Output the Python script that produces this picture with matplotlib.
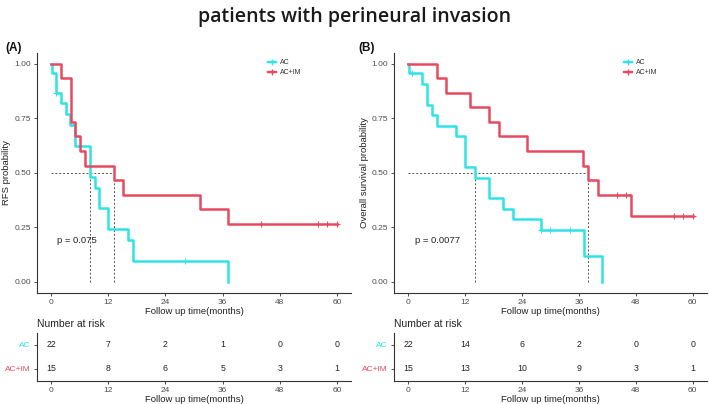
import numpy as np
import matplotlib
matplotlib.use("Agg")
import matplotlib.pyplot as plt
from matplotlib.lines import Line2D

plt.rcParams['font.family'] = ['Liberation Sans', 'DejaVu Sans']

# ---- data ----
title = "patients with perineural invasion"
group_names = ["AC", "AC+IM"]
time_ticks = [0, 12, 24, 36, 48, 60]

# panel A : RFS
a_ac_time = [0, 0.1, 0.9, 2.0, 3.0, 4.0, 4.9, 8.1, 9.1, 10.0, 11.9, 16.1, 17.1, 37.1]
a_ac_surv = [1.0, 0.955, 0.864, 0.818, 0.768, 0.720, 0.624, 0.480, 0.432, 0.336, 0.240, 0.192, 0.096, 0.0]
a_ac_cens_t = [1.0, 28.1]
a_ac_cens_s = [0.864, 0.096]
a_ac_end = 37.1

a_im_time = [0, 2.1, 4.07, 5.05, 6.1, 7.1, 13.2, 15.1, 31.2, 37.1]
a_im_surv = [1.0, 0.933, 0.733, 0.667, 0.600, 0.533, 0.467, 0.400, 0.333, 0.267]
a_im_cens_t = [44.0, 56.1, 58.0, 60.0]
a_im_cens_s = [0.267, 0.267, 0.267, 0.267]
a_im_end = 60.0

a_pval = "p = 0.075"
a_risk_ac = [22, 7, 2, 1, 0, 0]
a_risk_im = [15, 8, 6, 5, 3, 1]

# panel B : overall survival
b_ac_time = [0, 0.1, 2.95, 3.9, 4.9, 5.97, 9.97, 11.9, 14.04, 17.07, 20.0, 22.0, 28.0, 37.07, 40.9]
b_ac_surv = [1.0, 0.955, 0.907, 0.811, 0.763, 0.716, 0.668, 0.525, 0.477, 0.382, 0.334, 0.286, 0.238, 0.119, 0.0]
b_ac_cens_t = [0.7, 28.0, 29.8, 34.0]
b_ac_cens_s = [0.955, 0.238, 0.238, 0.238]
b_ac_end = 40.9

b_im_time = [0, 5.97, 7.94, 12.98, 17.05, 19.1, 25.1, 36.9, 37.98, 40.1, 46.9]
b_im_surv = [1.0, 0.933, 0.867, 0.800, 0.733, 0.667, 0.600, 0.533, 0.467, 0.400, 0.300]
b_im_cens_t = [44.0, 46.0, 56.0, 58.0, 60.0]
b_im_cens_s = [0.400, 0.400, 0.300, 0.300, 0.300]
b_im_end = 60.0

b_pval = "p = 0.0077"
b_risk_ac = [22, 14, 6, 2, 0, 0]
b_risk_im = [15, 13, 10, 9, 3, 1]

col_ac = "#2de3e6"
col_im = "#e64a60"
axis_col = "#333333"
tick_col = "#4d4d4d"


def median_time(times, surv):
    for t, s in zip(times, surv):
        if s <= 0.5:
            return t
    return None


def style_axis(ax):
    for side in ["top", "right"]:
        ax.spines[side].set_visible(False)
    for side in ["left", "bottom"]:
        ax.spines[side].set_color(axis_col)
        ax.spines[side].set_linewidth(0.8)
    ax.tick_params(axis="both", length=2.5, width=0.6, color=axis_col,
                   labelsize=6, labelcolor=tick_col, pad=2)


def km_panel(ax, curves, ylabel, pval):
    meds = []
    for times, surv, end, ct, cs, col in curves:
        t = list(times) + [end]
        s = list(surv) + [surv[-1]]
        ax.step(t, s, where="post", color=col, lw=1.8, zorder=3)
        ax.plot(ct, cs, ls="none", marker="+", ms=4, mew=0.8, color=col, zorder=4)
        meds.append(median_time(times, surv))
    # median lines
    ax.plot([0, max(meds)], [0.5, 0.5], ls=(0, (2, 2)), color="#555555", lw=0.7, zorder=2)
    for m in meds:
        ax.plot([m, m], [0, 0.5], ls=(0, (2, 2)), color="#555555", lw=0.7, zorder=2)
    ax.set_xlim(-3, 63)
    ax.set_ylim(-0.05, 1.05)
    ax.set_xticks(time_ticks)
    ax.set_yticks([0, 0.25, 0.5, 0.75, 1.0])
    ax.set_yticklabels(["0.00", "0.25", "0.50", "0.75", "1.00"])
    ax.set_xlabel("Follow up time(months)", fontsize=6.8, color="#222222", labelpad=1)
    ax.set_ylabel(ylabel, fontsize=6.8, color="#222222", labelpad=2)
    ax.text(1.3, 0.19, pval, fontsize=6.8, color="#222222", ha="left", va="center")
    handles = [Line2D([0], [0], color=col_ac, lw=1.7, marker="+", ms=4),
               Line2D([0], [0], color=col_im, lw=1.7, marker="+", ms=4)]
    ax.legend(handles, group_names, loc="upper left", bbox_to_anchor=(0.715, 1.0),
              frameon=False, fontsize=5, handlelength=1.2, handletextpad=0.5,
              labelspacing=0.5, labelcolor="#333333")
    style_axis(ax)


def risk_table(ax, risk_ac, risk_im):
    for x, n in zip(time_ticks, risk_ac):
        ax.text(x, 2, str(n), ha="center", va="center", fontsize=6.3, color="#222222")
    for x, n in zip(time_ticks, risk_im):
        ax.text(x, 1, str(n), ha="center", va="center", fontsize=6.3, color="#222222")
    ax.set_xlim(-3, 63)
    ax.set_ylim(0.5, 2.5)
    ax.set_xticks(time_ticks)
    ax.set_yticks([2, 1])
    ax.set_yticklabels(group_names)
    style_axis(ax)
    ax.get_yticklabels()[0].set_color(col_ac)
    ax.get_yticklabels()[1].set_color(col_im)
    ax.set_xlabel("Follow up time(months)", fontsize=6.8, color="#222222", labelpad=1)
    ax.set_title("Number at risk", fontsize=7.5, color="#222222", loc="left", pad=4, x=0.0)


fig = plt.figure(figsize=(7.09, 4.04), dpi=100)

ax_a = fig.add_axes([0.0522, 0.2755, 0.443, 0.594])
ax_b = fig.add_axes([0.5561, 0.2755, 0.441, 0.594])
rt_a = fig.add_axes([0.0522, 0.0577, 0.443, 0.118])
rt_b = fig.add_axes([0.5561, 0.0577, 0.441, 0.118])

km_panel(ax_a, [(a_ac_time, a_ac_surv, a_ac_end, a_ac_cens_t, a_ac_cens_s, col_ac),
                (a_im_time, a_im_surv, a_im_end, a_im_cens_t, a_im_cens_s, col_im)],
         "RFS probability", a_pval)
km_panel(ax_b, [(b_ac_time, b_ac_surv, b_ac_end, b_ac_cens_t, b_ac_cens_s, col_ac),
                (b_im_time, b_im_surv, b_im_end, b_im_cens_t, b_im_cens_s, col_im)],
         "Overall survival probability", b_pval)
risk_table(rt_a, a_risk_ac, a_risk_im)
risk_table(rt_b, b_risk_ac, b_risk_im)

fig.text(0.007, 0.88, "(A)", fontsize=8.5, fontweight="bold", color="#111111", va="center")
fig.text(0.505, 0.88, "(B)", fontsize=8.5, fontweight="bold", color="#111111", va="center")
fig.text(0.5, 0.957, title, fontsize=14, fontweight="semibold", family=["Open Sans", "DejaVu Sans"],
         color="#1a1a1a", ha="center", va="center")

fig.savefig("out.png", dpi=100, facecolor="white")
